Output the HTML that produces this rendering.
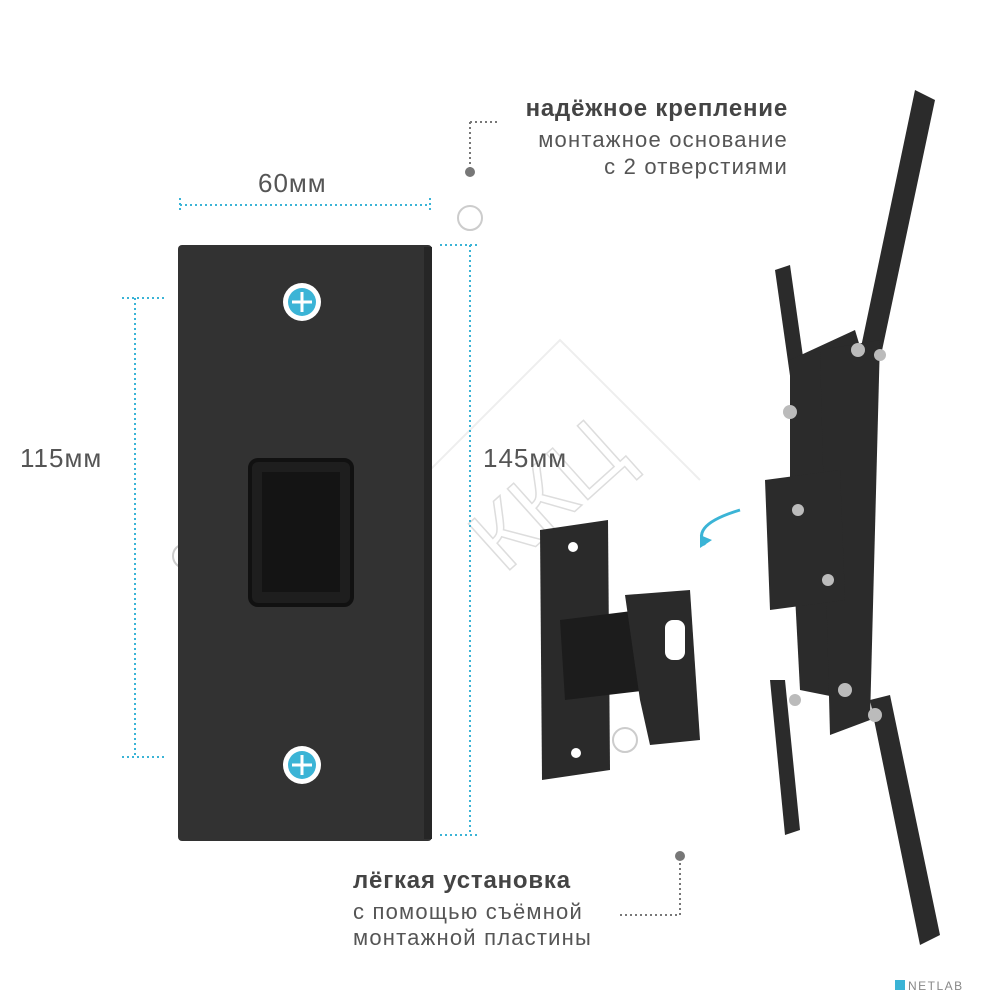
<!DOCTYPE html>
<html><head><meta charset="utf-8"><style>
body{margin:0;background:#fff;width:1000px;height:1000px;overflow:hidden;position:relative;font-family:"Liberation Sans",sans-serif;}
.t{position:absolute;color:#555;font-size:22px;white-space:nowrap;letter-spacing:1.2px}
.b{font-weight:bold;color:#444;letter-spacing:0.8px}
.d{font-size:26px;letter-spacing:1px;color:#555}
</style></head><body>
<svg width="1000" height="1000" style="position:absolute;left:0;top:0">
<g fill="none" stroke="#eee" stroke-width="2">
<path d="M420 480 L560 340 L700 480"/>
<circle cx="470" cy="218" r="12" stroke="#ccc"/>
<circle cx="185" cy="556" r="12" stroke="#ccc"/>
<circle cx="625" cy="740" r="12" stroke="#ccc"/>
</g>
<text x="445" y="540" font-size="90" fill="none" stroke="#ddd" stroke-width="1.5" font-family="Liberation Sans" transform="rotate(-42 520 480)">ККЦ</text>
<g stroke="#3bb4d6" stroke-width="2" stroke-dasharray="2,3" fill="none">
<path d="M180 205 H430 M180 198 V212 M430 198 V212"/>
<path d="M135 298 V757 M122 298 H165 M122 757 H165"/>
<path d="M470 245 V835 M440 245 H478 M440 835 H478"/>
</g>
<rect x="178" y="245" width="254" height="596" rx="4" fill="#323232"/>
<rect x="424" y="247" width="8" height="592" fill="#262626"/>
<rect x="250" y="460" width="102" height="145" rx="8" fill="#1e1e1e" stroke="#111" stroke-width="4"/>
<rect x="262" y="472" width="78" height="120" fill="#141414"/>
<g>
<circle cx="302" cy="302" r="19" fill="#fff"/><circle cx="302" cy="302" r="14" fill="#3bb4d6"/>
<path d="M302 292 V312 M292 302 H312" stroke="#fff" stroke-width="3"/>
<circle cx="302" cy="765" r="19" fill="#fff"/><circle cx="302" cy="765" r="14" fill="#3bb4d6"/>
<path d="M302 755 V775 M292 765 H312" stroke="#fff" stroke-width="3"/>
</g>
<g stroke="#777" stroke-width="2" stroke-dasharray="2,3" fill="none">
<path d="M470 122 H500 M470 122 V168"/>
<path d="M680 858 V915 H618"/>
</g>
<circle cx="470" cy="172" r="5" fill="#777"/>
<circle cx="680" cy="856" r="5" fill="#777"/>
<polygon points="540,530 608,520 610,770 542,780" fill="#2a2a2a"/>
<circle cx="573" cy="547" r="5" fill="#fff"/><circle cx="576" cy="753" r="5" fill="#fff"/>
<polygon points="560,620 640,610 650,690 565,700" fill="#1c1c1c"/>
<polygon points="625,595 690,590 700,740 650,745 640,700" fill="#2a2a2a"/>
<rect x="665" y="620" width="20" height="40" rx="8" fill="#fff"/>
<path d="M705 545 Q690 525 740 510" stroke="#3bb4d6" stroke-width="3" fill="none"/>
<polygon points="700,548 712,540 700,535" fill="#3bb4d6"/>
<g fill="#2b2b2b">
<polygon points="915,90 935,100 880,360 860,352"/>
<polygon points="775,270 790,265 812,420 797,425"/>
<polygon points="790,360 855,330 870,380 850,700 800,690 790,500"/>
<polygon points="820,350 880,340 870,720 830,735"/>
<polygon points="870,700 890,695 940,935 920,945"/>
<polygon points="770,680 785,680 800,830 785,835"/>
<polygon points="765,480 840,470 845,600 770,610"/>
</g>
<g fill="#bbb"><circle cx="790" cy="412" r="7"/><circle cx="858" cy="350" r="7"/><circle cx="880" cy="355" r="6"/><circle cx="845" cy="690" r="7"/><circle cx="875" cy="715" r="7"/><circle cx="795" cy="700" r="6"/><circle cx="798" cy="510" r="6"/><circle cx="828" cy="580" r="6"/></g>
<text x="908" y="990" font-size="12" fill="#888" font-family="Liberation Sans" letter-spacing="1.5">NETLAB</text>
<rect x="895" y="980" width="10" height="10" fill="#3bb4d6"/>
</svg>
<div class="t d" style="left:258px;top:168px">60мм</div>
<div class="t d" style="left:20px;top:443px">115мм</div>
<div class="t d" style="left:483px;top:443px">145мм</div>
<div class="t b" style="right:212px;top:95px;font-size:24px">надёжное крепление</div>
<div class="t" style="right:212px;top:127px">монтажное основание</div>
<div class="t" style="right:212px;top:154px">с 2 отверстиями</div>
<div class="t b" style="left:353px;top:867px;font-size:24px">лёгкая установка</div>
<div class="t" style="left:353px;top:899px">с помощью съёмной</div>
<div class="t" style="left:353px;top:925px">монтажной пластины</div>
</body></html>
